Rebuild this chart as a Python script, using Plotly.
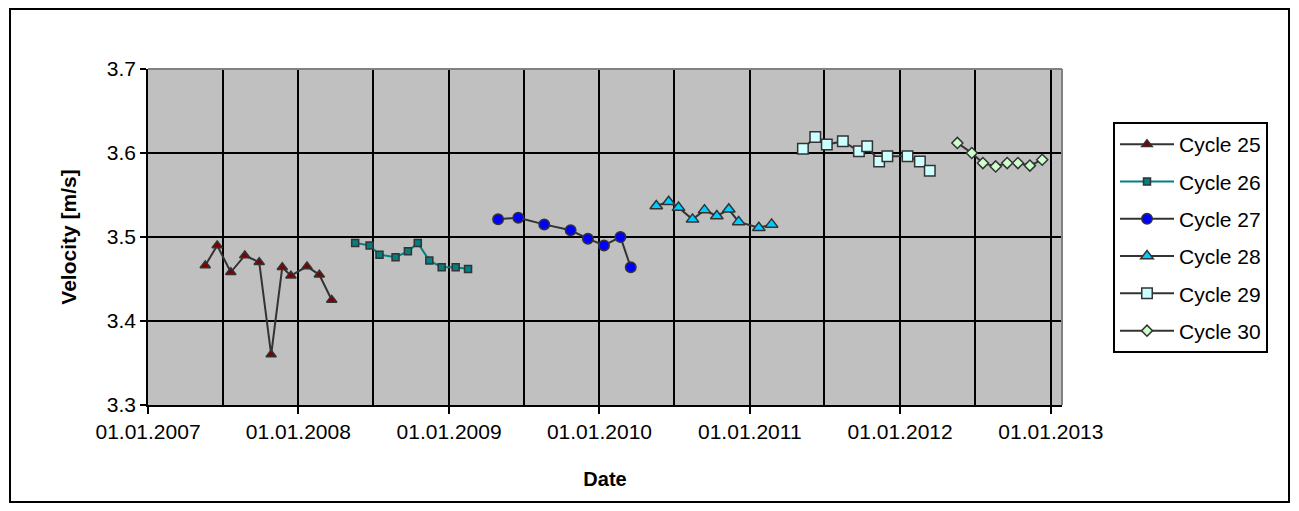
import plotly.graph_objects as go

# ---- data ----
c25_dates = ["2007-05-20", "2007-06-18", "2007-07-21", "2007-08-24", "2007-09-28", "2007-10-27",
             "2007-11-23", "2007-12-14", "2008-01-22", "2008-02-21", "2008-03-22"]
c25_vals = [3.466, 3.490, 3.458, 3.478, 3.470, 3.360, 3.464, 3.454, 3.465, 3.455, 3.425]

c26_dates = ["2008-05-18", "2008-06-22", "2008-07-16", "2008-08-24", "2008-09-23", "2008-10-17",
             "2008-11-14", "2008-12-14", "2009-01-17", "2009-02-16"]
c26_vals = [3.493, 3.490, 3.479, 3.476, 3.483, 3.493, 3.472, 3.464, 3.464, 3.462]

c27_dates = ["2009-04-30", "2009-06-18", "2009-08-20", "2009-10-23", "2009-12-04", "2010-01-12",
             "2010-02-21", "2010-03-18"]
c27_vals = [3.521, 3.523, 3.515, 3.508, 3.498, 3.490, 3.500, 3.464]

c28_dates = ["2010-05-19", "2010-06-18", "2010-07-12", "2010-08-15", "2010-09-13", "2010-10-13",
             "2010-11-11", "2010-12-05", "2011-01-23", "2011-02-23"]
c28_vals = [3.537, 3.542, 3.535, 3.521, 3.532, 3.525, 3.533, 3.518, 3.511, 3.515]

c29_dates = ["2011-05-10", "2011-06-09", "2011-07-07", "2011-08-15", "2011-09-23", "2011-10-13",
             "2011-11-11", "2011-12-01", "2012-01-19", "2012-02-18", "2012-03-13"]
c29_vals = [3.605, 3.619, 3.610, 3.614, 3.602, 3.608, 3.590, 3.596, 3.596, 3.590, 3.579]

c30_dates = ["2012-05-19", "2012-06-23", "2012-07-20", "2012-08-20", "2012-09-17", "2012-10-13",
             "2012-11-11", "2012-12-11"]
c30_vals = [3.612, 3.600, 3.588, 3.584, 3.588, 3.588, 3.585, 3.592]

series_names = ["Cycle 25", "Cycle 26", "Cycle 27", "Cycle 28", "Cycle 29", "Cycle 30"]
y_ticks = [3.3, 3.4, 3.5, 3.6, 3.7]

# ---- styles ----
FONT = "Liberation Sans, Arial, sans-serif"
dark = "#333333"
styles = [
    dict(symbol="triangle-up", size=9, fill="#800000", line=dark),
    dict(symbol="square", size=7, fill="#008080", line="#008080"),
    dict(symbol="circle", size=10.5, fill="#0000FF", line=dark),
    dict(symbol="triangle-up", size=11, fill="#00CCFF", line=dark),
    dict(symbol="square", size=10.5, fill="#CCFFFF", line=dark),
    dict(symbol="diamond", size=8.5, fill="#CCFFCC", line=dark),
]
data = [(c25_dates, c25_vals), (c26_dates, c26_vals), (c27_dates, c27_vals),
        (c28_dates, c28_vals), (c29_dates, c29_vals), (c30_dates, c30_vals)]

fig = go.Figure()
for name, (d, v), s in zip(series_names, data, styles):
    fig.add_trace(go.Scatter(
        x=d, y=v, name=name, mode="lines+markers", legendgroup=name,
        line=dict(color=s["line"], width=2),
        marker=dict(symbol=s["symbol"], size=s["size"], color=s["fill"],
                    line=dict(color=dark, width=1.5)),
    ))

# page has an 8px body margin; work in figure coordinates
OFF = 8
L, R, T, B = 148 - OFF, 1062 - OFF, 69 - OFF, 405 - OFF
W, H = 1299 - OFF, 511 - OFF
pw, ph = R - L, B - T

def px(x):
    return (x - OFF - L) / pw

def py(y):
    return (B - (y - OFF)) / ph

fig.update_layout(
    width=W, height=H,
    margin=dict(l=L, r=W - R, t=T, b=H - B, pad=0),
    paper_bgcolor="white", plot_bgcolor="#C0C0C0",
    font=dict(family=FONT, size=21, color="black"),
    showlegend=True,
    legend=dict(
        x=px(1113), y=py(122), xanchor="left", yanchor="top",
        bgcolor="white", bordercolor="black", borderwidth=2,
        font=dict(size=21), tracegroupgap=7, traceorder="grouped",
        itemwidth=54,
    ),
    xaxis=dict(
        type="date", range=["2007-01-01", "2013-01-28"],
        dtick="M12", tick0="2007-01-01", tickformat="%d.%m.%Y",
        ticks="outside", ticklen=7, tickwidth=1.5, tickcolor="black",
        showgrid=True, gridcolor="black", gridwidth=1.5,
        minor=dict(dtick="M6", showgrid=True, gridcolor="black", gridwidth=1.5, ticks=""),
        showline=True, linecolor="black", linewidth=1.5,
        title=dict(text="<b>Date</b>", font=dict(size=20), standoff=30),
        tickfont=dict(size=21), zeroline=False,
    ),
    yaxis=dict(
        range=[3.3, 3.7], tickvals=y_ticks, ticktext=[f"{t:.1f}" for t in y_ticks],
        ticks="outside", ticklen=6, tickwidth=1.5, tickcolor="black",
        showgrid=True, gridcolor="black", gridwidth=1.5,
        showline=True, linecolor="black", linewidth=1.5,
        title=dict(text="<b>Velocity [m/s]</b>", font=dict(size=21), standoff=24),
        tickfont=dict(size=21), zeroline=False,
    ),
    shapes=[
        dict(type="line", xref="paper", yref="paper", x0=0, x1=1, y0=1, y1=1,
             line=dict(color="#808080", width=2), layer="above"),
        dict(type="line", xref="paper", yref="paper", x0=1, x1=1, y0=0, y1=1,
             line=dict(color="#808080", width=2), layer="above"),
        dict(type="rect", xref="paper", yref="paper",
             x0=px(10), x1=px(1289), y0=py(502), y1=py(9),
             line=dict(color="black", width=2), fillcolor="rgba(0,0,0,0)", layer="above"),
    ],
)

fig.write_html("out.html")
